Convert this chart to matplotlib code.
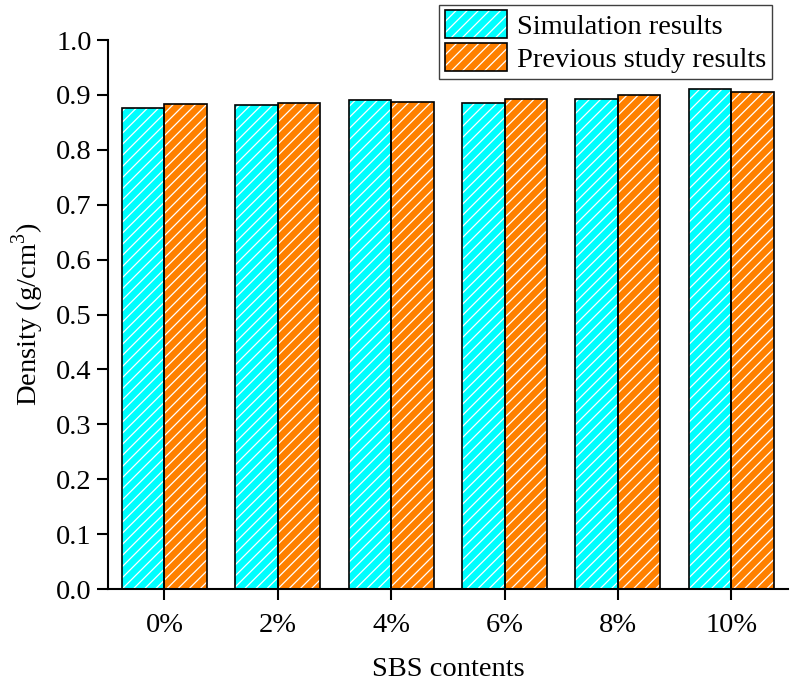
import numpy as np
import matplotlib
matplotlib.use('Agg')
import matplotlib.pyplot as plt
from matplotlib.patches import Patch
from matplotlib.legend_handler import HandlerTuple

# Data
contents = ['0%', '2%', '4%', '6%', '8%', '10%']
simulation = [0.877, 0.881, 0.891, 0.885, 0.893, 0.911]
previous = [0.883, 0.885, 0.887, 0.893, 0.900, 0.906]

plt.rcParams['font.family'] = ['Liberation Serif', 'DejaVu Serif']
plt.rcParams['hatch.linewidth'] = 0.9
plt.rcParams['mathtext.fontset'] = 'custom'
plt.rcParams['mathtext.rm'] = 'Liberation Serif'

cyan = '#00FFFF'
orange = '#FF8000'
width = 0.375
fs = 20.5

fig = plt.figure(figsize=(7.96, 6.85), dpi=100)
ax = fig.add_axes([0.1353, 0.140, 0.8547, 0.8016])

x = np.arange(len(contents))
# hatch layer (white lines) then black outline layer
ax.bar(x - width / 2, simulation, width, color=cyan, edgecolor='white', hatch='///', linewidth=0)
ax.bar(x + width / 2, previous, width, color=orange, edgecolor='white', hatch='///', linewidth=0)
ax.bar(x - width / 2, simulation, width, fill=False, edgecolor='black', linewidth=1.2)
ax.bar(x + width / 2, previous, width, fill=False, edgecolor='black', linewidth=1.2)

ax.set_xlim(-0.5, 5.5)
ax.set_ylim(0, 1.0)
ax.set_xticks(x)
ax.set_xticklabels(contents)
ax.set_yticks(np.arange(0, 1.01, 0.1))
ax.set_yticklabels(['%.1f' % v for v in np.arange(0, 1.01, 0.1)])

for s in ['top', 'right']:
    ax.spines[s].set_visible(False)
for s in ['left', 'bottom']:
    ax.spines[s].set_linewidth(1.5)
ax.tick_params(axis='both', direction='out', length=8, width=1.5, labelsize=fs)
ax.tick_params(axis='x', pad=9)

ax.set_xlabel('SBS contents', fontsize=fs, labelpad=14)
ax.set_ylabel('Density (g/cm$^3$)', fontsize=fs, labelpad=7)

h1 = (Patch(facecolor=cyan, edgecolor='white', hatch='///', linewidth=0),
      Patch(fill=False, edgecolor='black', linewidth=1.2))
h2 = (Patch(facecolor=orange, edgecolor='white', hatch='///', linewidth=0),
      Patch(fill=False, edgecolor='black', linewidth=1.2))
leg = fig.legend([h1, h2], ['Simulation results', 'Previous study results'],
                 handler_map={tuple: HandlerTuple(ndivide=1)},
                 loc='upper right', bbox_to_anchor=(0.970, 0.993),
                 fontsize=fs, fancybox=False, framealpha=1,
                 handlelength=2.2, handleheight=1.12, handletextpad=0.35,
                 labelspacing=0.12, borderpad=0.2, borderaxespad=0)
leg.get_frame().set_edgecolor('#404040')
leg.get_frame().set_linewidth(1.0)

fig.savefig('out.png', dpi=100)
